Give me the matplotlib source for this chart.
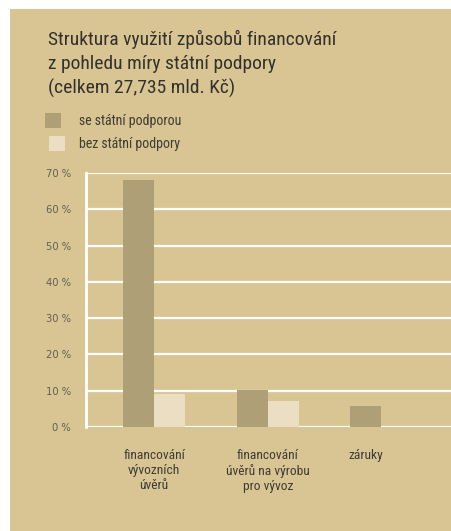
import matplotlib
matplotlib.use("Agg")
import matplotlib.pyplot as plt
from matplotlib.patches import Rectangle
from matplotlib import font_manager

categories = ["financování\nvývozních\núvěrů", "financování\núvěrů na výrobu\npro vývoz", "záruky"]
with_support = [68.0, 10.1, 5.8]
without_support = [9.1, 7.1, 0.0]
series_names = ["se státní podporou", "bez státní podpory"]
yticks = [0, 10, 20, 30, 40, 50, 60, 70]
ytick_labels = [f"{v} %" for v in yticks]
title = "Struktura využití způsobů financování\nz pohledu míry státní podpory\n(celkem 27,735 mld. Kč)"

names = {f.name for f in font_manager.fontManager.ttflist}
def pick(cands):
    for c in cands:
        if c in names:
            return c
    return "DejaVu Sans"
narrow = pick(["Roboto Condensed", "Archivo Narrow", "PT Sans Narrow", "Liberation Sans"])
tickfont = "DejaVu Sans"

BG = "#D9C594"
DARK = "#AE9F77"
LIGHT = "#EBDEC2"
TXT = "#3E3C36"
TITLE = "#33312B"
TICK = "#625F53"

W, H = 452, 531
fig = plt.figure(figsize=(W / 100, H / 100), dpi=100)
fig.patch.set_facecolor("white")
fig.add_artist(Rectangle((10 / W, 0), 1 - 10 / W, 1 - 9 / H, transform=fig.transFigure,
                         facecolor=BG, edgecolor="none", zorder=0))

ax = fig.add_axes([86 / W, 1 - 427 / H, (452 - 86) / W, (427 - 173) / H])
ax.set_facecolor("none")
bw = 0.273
xs = list(range(len(categories)))
ax.bar([x - bw / 2 for x in xs], with_support, width=bw, color=DARK, zorder=3)
ax.bar([x + bw / 2 for x in xs], without_support, width=bw, color=LIGHT, zorder=3)
ax.set_xlim(-0.598, 2.62)
ax.set_ylim(0, 70)
for v in yticks:
    ax.axhline(v, color="white", lw=1.6, zorder=1)
for s in ["top", "right", "bottom"]:
    ax.spines[s].set_visible(False)
ax.spines["left"].set_color("white")
ax.spines["left"].set_linewidth(2)
ax.spines["left"].set_zorder(2)
ax.set_yticks(yticks)
ax.set_yticklabels(ytick_labels, fontsize=7.2, color=TICK, family=tickfont)
ax.tick_params(axis="y", length=0, pad=11)
tickpos = []
for i in xs:
    if without_support[i] > 0:
        tickpos.append(i)
    else:
        tickpos.append(i - bw / 2)
ax.set_xticks(tickpos)
ax.set_xticklabels(categories, fontsize=9.7, color=TXT, family=narrow, linespacing=1.2)
ax.tick_params(axis="x", length=0, pad=16)

fig.text(48 / W, 1 - 30 / H, title, fontsize=14, color=TITLE, family=narrow,
         va="top", ha="left", linespacing=1.39)

fig.add_artist(Rectangle((45 / W, 1 - 128 / H), 16 / W, 15 / H, transform=fig.transFigure,
                         facecolor=DARK, edgecolor="none"))
fig.add_artist(Rectangle((49 / W, 1 - 151 / H), 16 / W, 15 / H, transform=fig.transFigure,
                         facecolor=LIGHT, edgecolor="none"))
fig.text(79 / W, 1 - 121 / H, series_names[0], fontsize=10, color=TXT, family=narrow, va="center")
fig.text(79 / W, 1 - 144 / H, series_names[1], fontsize=10, color=TXT, family=narrow, va="center")

fig.savefig("out.png", dpi=100)
